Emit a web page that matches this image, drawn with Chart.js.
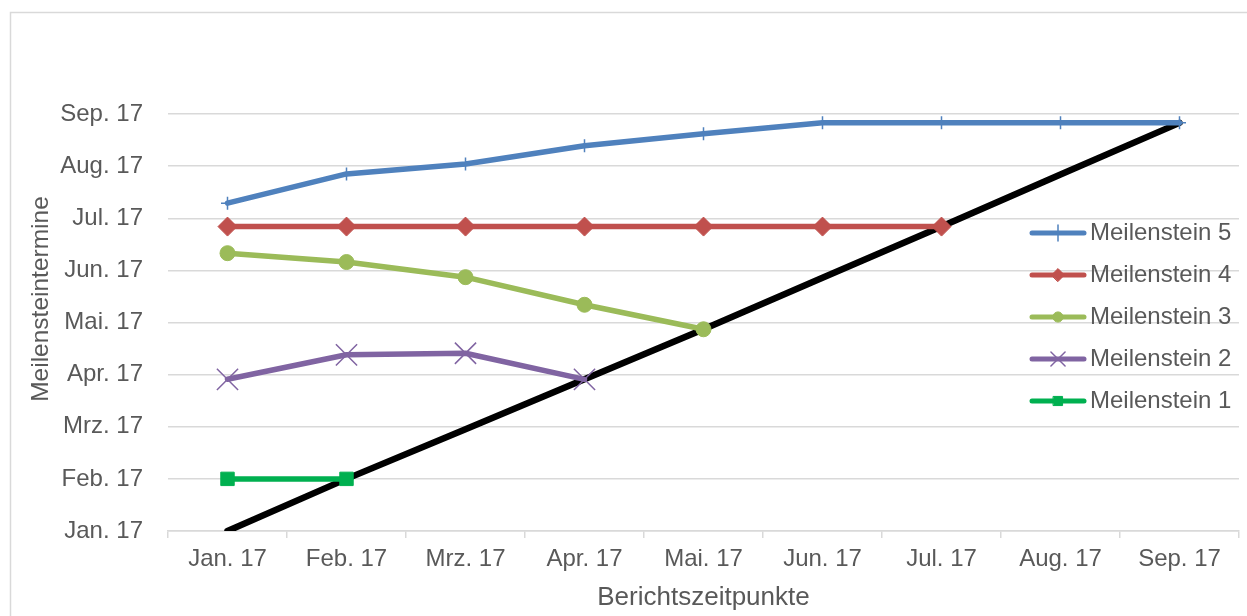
<!DOCTYPE html>
<html>
<head>
<meta charset="utf-8">
<script src="https://cdn.jsdelivr.net/npm/chart.js@4/dist/chart.umd.min.js"></script>
<style>
    html, body { margin: 0; padding: 0; background: #ffffff; overflow: hidden; }
    #wrap { width: 1247px; height: 616px; position: relative; }
</style>
</head>
<body>
<div id="wrap"><canvas id="chart"></canvas></div>
<script>
// Berichtszeitpunkte (x) and Meilensteintermine (y, in months after Jan. 17)
const reportDates = ['Jan. 17', 'Feb. 17', 'Mrz. 17', 'Apr. 17', 'Mai. 17', 'Jun. 17', 'Jul. 17', 'Aug. 17', 'Sep. 17'];
const monthLabels = ['Jan. 17', 'Feb. 17', 'Mrz. 17', 'Apr. 17', 'Mai. 17', 'Jun. 17', 'Jul. 17', 'Aug. 17', 'Sep. 17'];

const milestone5 = [6.29, 6.85, 7.04, 7.39, 7.62, 7.83, 7.83, 7.83, 7.83];
const milestone4 = [5.84, 5.84, 5.84, 5.84, 5.84, 5.84, 5.84];
const milestone3 = [5.33, 5.16, 4.87, 4.34, 3.87];
const milestone2 = [2.91, 3.38, 3.41, 2.91];
const milestone1 = [1.0, 1.0];
const diagonal = [0, 1.0, 1.95, 2.91, 3.87, 4.86, 5.84, 6.84, 7.83];

const FONT = "'Liberation Sans', Arial, sans-serif";
const TEXT = '#595959';
const GRID = '#d9d9d9';

function series(label, data, color, style, radius, pointWidth) {
    return {
        label: label,
        data: data,
        borderColor: color,
        backgroundColor: color,
        borderWidth: 5.5,
        borderCapStyle: 'round',
        borderJoinStyle: 'round',
        pointStyle: style,
        pointRadius: radius,
        pointBorderWidth: pointWidth,
        pointBackgroundColor: color,
        pointBorderColor: color,
        tension: 0
    };
}

const datasets = [
    series('Meilenstein 5', milestone5, '#4f81bd', 'cross', 6.5, 1.5),
    series('Meilenstein 4', milestone4, '#c0504d', 'rectRot', 9.5, 1),
    series('Meilenstein 3', milestone3, '#9bbb59', 'circle', 7.5, 1),
    series('Meilenstein 2', milestone2, '#8064a2', 'crossRot', 15, 1.5),
    series('Meilenstein 1', milestone1, '#00b050', 'rect', 9.5, 1),
    {
        label: 'Berichtslinie',
        data: diagonal,
        borderColor: '#000000',
        borderWidth: 6.5,
        borderCapStyle: 'round',
        pointRadius: 0,
        hideInLegend: true
    }
];

// outer chart frame (only top and left edge are visible) + y axis title
const framePlugin = {
    id: 'frame',
    beforeDraw(chart) {
        const ctx = chart.ctx;
        ctx.save();
        ctx.strokeStyle = GRID;
        ctx.lineWidth = 1.5;
        ctx.beginPath();
        ctx.moveTo(10.5, 616);
        ctx.lineTo(10.5, 12.5);
        ctx.lineTo(1247, 12.5);
        ctx.stroke();

        // Excel centres this title a bit above the plot middle
        ctx.translate(41, 299);
        ctx.rotate(-Math.PI / 2);
        ctx.fillStyle = TEXT;
        ctx.font = '24.5px ' + FONT;
        ctx.textAlign = 'center';
        ctx.textBaseline = 'middle';
        ctx.fillText('Meilensteintermine', 0, 0);
        ctx.restore();
    }
};

// legend drawn over the plot, like the Excel original
const legendPlugin = {
    id: 'overlayLegend',
    afterDatasetsDraw(chart) {
        const ctx = chart.ctx;
        const items = chart.data.datasets.filter(d => !d.hideInLegend);
        const rowY = [233, 275, 317, 359, 401];
        ctx.save();
        items.forEach((ds, i) => {
            const y = rowY[i];
            ctx.strokeStyle = ds.borderColor;
            ctx.lineWidth = 5;
            ctx.lineCap = 'round';
            ctx.beginPath();
            ctx.moveTo(1032, y);
            ctx.lineTo(1084, y);
            ctx.stroke();

            ctx.fillStyle = ds.pointBackgroundColor;
            ctx.strokeStyle = ds.pointBorderColor;
            ctx.lineWidth = ds.pointBorderWidth;
            const small = ds.pointStyle === 'cross' ? 8 : ds.pointStyle === 'crossRot' ? 10 : ds.pointRadius * 0.68;
            Chart.helpers.drawPoint(ctx, {
                pointStyle: ds.pointStyle,
                radius: small,
                rotation: 0,
                borderWidth: ds.pointBorderWidth
            }, 1058, y);

            ctx.fillStyle = TEXT;
            ctx.font = '24px ' + FONT;
            ctx.textBaseline = 'middle';
            ctx.textAlign = 'left';
            ctx.fillText(ds.label, 1090, y);
        });
        ctx.restore();
    }
};

const ctx = document.getElementById('chart').getContext('2d');
const chart = new Chart(ctx, {
    type: 'line',
    data: { labels: reportDates, datasets: datasets },
    options: {
        responsive: true,
        maintainAspectRatio: false,
        animation: false,
        layout: { autoPadding: false, padding: { top: 114, right: 8, bottom: 0, left: 0 } },
        plugins: {
            legend: { display: false },
            tooltip: { enabled: false }
        },
        scales: {
            x: {
                offset: true,
                grid: { drawOnChartArea: false, drawTicks: true, tickLength: 7, color: GRID, lineWidth: 1.5, offset: true },
                border: { display: true, color: GRID, width: 1.5 },
                ticks: { color: TEXT, font: { family: FONT, size: 24 }, padding: 7, maxRotation: 0, autoSkip: false },
                title: {
                    display: true,
                    text: 'Berichtszeitpunkte',
                    color: TEXT,
                    font: { family: FONT, size: 26 },
                    padding: { top: 3, bottom: 3 }
                },
                afterFit(scale) {
                    scale.height = 85;
                    scale.paddingLeft = 0;
                    scale.paddingRight = 0;
                }
            },
            y: {
                min: 0,
                max: 8,
                grid: { color: GRID, lineWidth: 1.5, drawTicks: false },
                border: { display: false },
                ticks: {
                    stepSize: 1,
                    color: TEXT,
                    font: { family: FONT, size: 24 },
                    padding: 25,
                    callback: (value) => monthLabels[value]
                },
                afterFit(scale) { scale.width = 168; }
            }
        }
    },
    plugins: [framePlugin, legendPlugin]
});
</script>
</body>
</html>
